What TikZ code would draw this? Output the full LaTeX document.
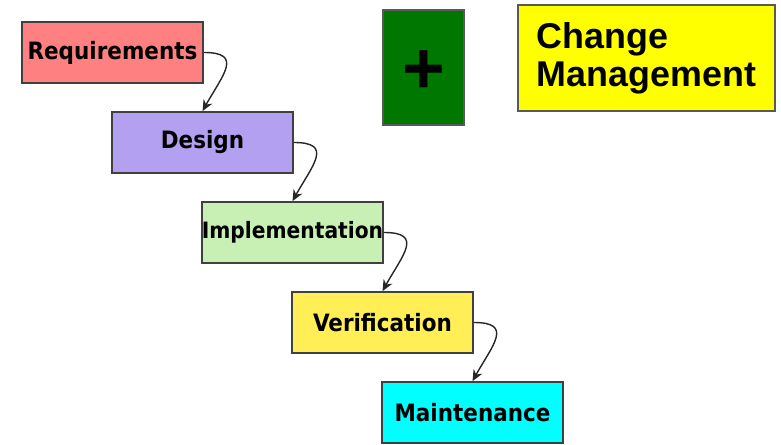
\documentclass[tikz,border=0pt]{standalone}
\usepackage{fontspec}
\newfontfamily\stagefont{DejaVu Sans Condensed}
\newfontfamily\arialfont{Liberation Sans}
\usepackage{xcolor}
\definecolor{reqred}{RGB}{255, 128, 128}
\definecolor{designpurple}{RGB}{180, 160, 240}
\definecolor{implgreen}{RGB}{200, 240, 180}
\definecolor{verifyellow}{RGB}{255, 238, 85}
\definecolor{maintcyan}{RGB}{0, 255, 255}
\definecolor{plusgreen}{RGB}{0, 120, 0}
\definecolor{changeyellow}{RGB}{255, 255, 0}
\usepackage{tikz}
\usetikzlibrary{
    arrows.meta,
    positioning
}
\tikzstyle{stage} = [
    rectangle, draw,
    minimum width=4.525cm,
    minimum height=1.525cm,
    inner sep=0pt,
    text centered,
    draw=black!75,
    line width=1.2pt,
    font=\stagefont\bfseries\fontsize{17}{20}\selectfont
]
\tikzstyle{extra} = [
    rectangle, draw,
    draw=black!65,
    line width=0.8pt
]
\tikzstyle{flow} = [
    line width=1pt,
    draw=black!85,
    -{Stealth[length=8pt, width=7pt]}
]

\begin{document}
\begin{tikzpicture}[node distance=2.25cm and 2.25cm, on grid]

\useasboundingbox (0,0) rectangle (19.525,-11.125);

\node (req) [stage, fill=reqred] at (2.8125,-1.3125)
    {Requirements};
\node (design) [stage, fill=designpurple, below right=of req]
    {Design};
\node (impl) [stage, fill=implgreen, below right=of design,
    font=\stagefont\bfseries\fontsize{16}{19}\selectfont]
    {Implementation};
\node (verif) [stage, fill=verifyellow, below right=of impl]
    {Verification};
\node (maint) [stage, fill=maintcyan, below right=of verif]
    {Maintenance};

\node (plus) [extra, fill=plusgreen, minimum width=2.025cm, minimum height=2.875cm,
    font=\arialfont\bfseries\fontsize{52}{52}\selectfont] at (10.5875,-1.6875)
    {\raisebox{-3pt}[\height][0pt]{+}};
\node (change) [extra, fill=changeyellow, minimum width=6.425cm, minimum height=2.65cm,
    align=left, font=\arialfont\bfseries\fontsize{25.5}{27}\selectfont] at (16.1625,-1.45)
    {Change\\Management};

% Wasserfall-Pfeile
\foreach \a/\b in {req/design, design/impl, impl/verif, verif/maint}
    \draw [flow] (\a.east) .. controls +(1,0) and +(0.5,0.9) .. (\b.north);

\end{tikzpicture}
\end{document}
